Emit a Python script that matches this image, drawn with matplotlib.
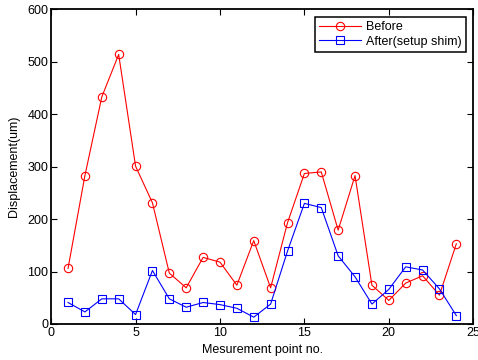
import matplotlib
matplotlib.use("Agg")
import numpy as np
from matplotlib import pyplot as plt

plt.rcParams["font.family"] = ["Liberation Sans", "DejaVu Sans"]

points = np.arange(1, 25)
before = [106, 283, 433, 514, 301, 231, 97, 69, 127, 118, 74, 159,
          69, 193, 287, 290, 179, 283, 74, 45, 78, 92, 55, 153]
after = [41, 23, 48, 48, 18, 102, 48, 32, 41, 37, 30, 13,
         38, 139, 230, 222, 130, 90, 38, 66, 109, 103, 67, 16]

x_ticks = [0, 5, 10, 15, 20, 25]
y_ticks = [0, 100, 200, 300, 400, 500, 600]

fig = plt.figure(figsize=(4.78, 3.6), dpi=100)
ax = fig.add_axes([0.107, 0.1, 0.883, 0.874])

ax.plot(points, before, "-o", color="red", lw=0.8, ms=6,
        mfc="none", mew=0.8, label="Before")
ax.plot(points, after, "-s", color="blue", lw=0.8, ms=6,
        mfc="none", mew=0.8, label="After(setup shim)")

ax.set_xlim(0, 25)
ax.set_ylim(0, 600)
ax.set_xticks(x_ticks)
ax.set_yticks(y_ticks)
ax.tick_params(direction="in", top=True, right=True, labelsize=9,
               length=4, width=0.8, pad=2)
for s in ax.spines.values():
    s.set_linewidth(1.3)

ax.set_xlabel("Mesurement point no.", fontsize=9, labelpad=4)
ax.set_ylabel("Displacement(um)", fontsize=9, labelpad=5)

leg = ax.legend(loc="upper right", fontsize=9, fancybox=False,
                edgecolor="black", framealpha=1, handlelength=3.3,
                handletextpad=0.4, borderaxespad=0.6, borderpad=0.35,
                labelspacing=0.2)
leg.get_frame().set_linewidth(1.1)

fig.savefig("out.png", dpi=100)
